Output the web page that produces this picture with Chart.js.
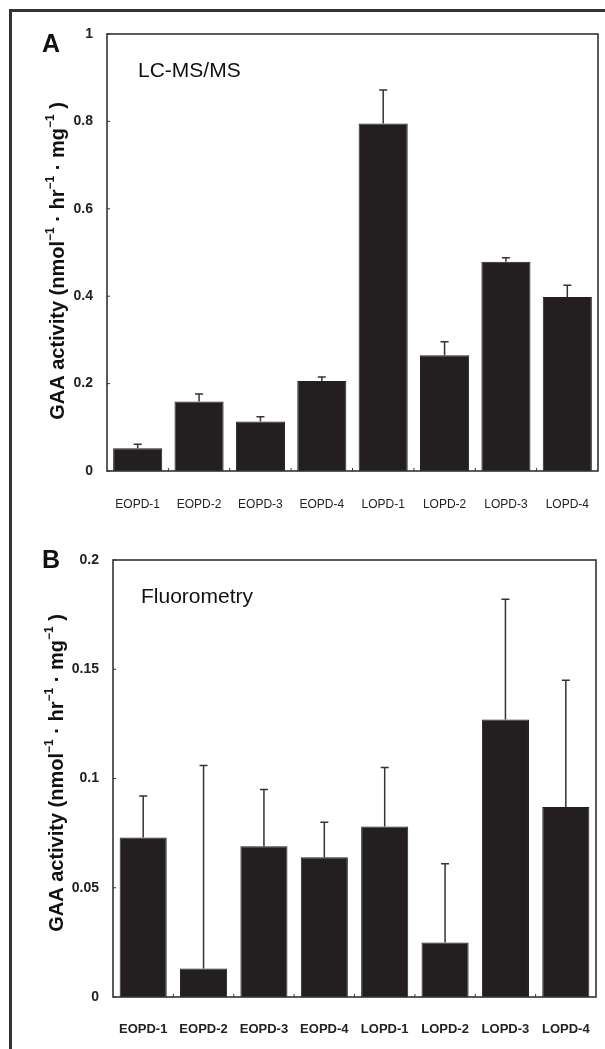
<!DOCTYPE html>
<html>
<head>
<meta charset="utf-8">
<title>GAA activity</title>
<script src="https://cdn.jsdelivr.net/npm/chart.js@4.4.1/dist/chart.umd.min.js"></script>
<style>
    body { margin: 0; background: #fff; }
    #page { position: relative; width: 605px; height: 1049px; overflow: hidden; }
    #frame {
        position: absolute; left: 9px; top: 9px; width: 700px; height: 1100px;
        border-left: 3px solid #333; border-top: 3px solid #333;
    }
    #wrapA { position: absolute; left: 0; top: 0; width: 605px; height: 520px; }
    #wrapB { position: absolute; left: 0; top: 520px; width: 605px; height: 529px; }
</style>
</head>
<body>
<div id="page">
    <div id="frame"></div>
    <div id="wrapA"><canvas id="chartA" width="605" height="520"></canvas></div>
    <div id="wrapB"><canvas id="chartB" width="605" height="529"></canvas></div>
</div>

<script>
// =============================
// DATA
// =============================

const patients = ["EOPD-1", "EOPD-2", "EOPD-3", "EOPD-4", "LOPD-1", "LOPD-2", "LOPD-3", "LOPD-4"];

// A: LC-MS/MS (mean, upper error)
const lcmsValues = [0.052, 0.159, 0.113, 0.206, 0.795, 0.265, 0.479, 0.398];
const lcmsErrors = [0.009, 0.017, 0.011, 0.009, 0.077, 0.031, 0.009, 0.027];

// B: Fluorometry (mean, upper error)
const fluoValues = [0.073, 0.013, 0.069, 0.064, 0.078, 0.025, 0.127, 0.087];
const fluoErrors = [0.019, 0.093, 0.026, 0.016, 0.027, 0.036, 0.055, 0.058];

const yTitleParts = [
    ["GAA activity (nmol", false],
    ["\u22121", true],
    [" \u00B7 hr", false],
    ["\u22121", true],
    [" \u00B7 mg", false],
    ["\u22121", true],
    [" )", false]
];

const FONT = "Arial, 'Liberation Sans', sans-serif";
const INK = "#333";


// =============================
// FRAME, TICKS, ERROR BARS, TEXT
// =============================

const decorPlugin = {
    id: "decor",
    afterDatasetsDraw(chart, args, opts) {

        const ctx = chart.ctx;
        const area = chart.chartArea;
        const x = chart.scales.x;
        const y = chart.scales.y;
        const ds = chart.data.datasets[0];

        ctx.save();

        // error bars (upper only)
        ctx.strokeStyle = INK;
        ctx.lineWidth = 1.5;
        ds.data.forEach((v, i) => {
            const px = x.getPixelForValue(i);
            const top = y.getPixelForValue(v);
            const cap = y.getPixelForValue(v + opts.errors[i]);
            ctx.beginPath();
            ctx.moveTo(px, top);
            ctx.lineTo(px, cap);
            ctx.moveTo(px - 4, cap);
            ctx.lineTo(px + 4, cap);
            ctx.stroke();
        });

        // plot box
        ctx.lineWidth = 1.6;
        ctx.strokeRect(area.left, area.top, area.right - area.left, area.bottom - area.top);

        // inward ticks
        ctx.lineWidth = 1;
        y.ticks.forEach(t => {
            const py = y.getPixelForValue(t.value);
            ctx.beginPath();
            ctx.moveTo(area.left, py);
            ctx.lineTo(area.left + 3, py);
            ctx.stroke();
        });
        for (let i = 1; i < ds.data.length; i++) {
            const px = (x.getPixelForValue(i - 1) + x.getPixelForValue(i)) / 2;
            ctx.beginPath();
            ctx.moveTo(px, area.bottom);
            ctx.lineTo(px, area.bottom - 3);
            ctx.stroke();
        }

        // panel letter and method name
        ctx.fillStyle = "#111";
        ctx.textBaseline = "alphabetic";
        ctx.textAlign = "left";
        ctx.font = "bold 25px " + FONT;
        ctx.fillText(opts.letter, 42, opts.letterY);
        ctx.font = "21px " + FONT;
        ctx.fillText(opts.method, opts.methodX, opts.methodY);

        // rotated y title with superscripts
        ctx.translate(opts.titleX, opts.titleY);
        ctx.rotate(-Math.PI / 2);
        const big = "bold 20px " + FONT;
        const small = "bold 12px " + FONT;
        let total = 0;
        yTitleParts.forEach(p => {
            ctx.font = p[1] ? small : big;
            total += ctx.measureText(p[0]).width;
        });
        let cx = -total / 2;
        yTitleParts.forEach(p => {
            ctx.font = p[1] ? small : big;
            ctx.fillText(p[0], cx, p[1] ? -10 : 0);
            cx += ctx.measureText(p[0]).width;
        });

        ctx.restore();
    }
};


// =============================
// CHART BUILDER
// =============================

function makeChart(id, values, errors, yMax, step, cfg) {

    return new Chart(document.getElementById(id), {
        type: "bar",
        data: {
            labels: patients,
            datasets: [
                {
                    data: values,
                    backgroundColor: "#231f20",
                    borderColor: "#231f20",
                    borderWidth: 1,
                    categoryPercentage: 1,
                    barPercentage: cfg.barPct
                }
            ]
        },
        options: {
            responsive: false,
            animation: false,
            events: [],
            layout: {
                padding: { top: cfg.padTop, right: cfg.padRight, left: 0, bottom: 0 }
            },
            plugins: {
                legend: { display: false },
                tooltip: { enabled: false },
                decor: {
                    errors: errors,
                    letter: cfg.letter,
                    letterY: cfg.letterY,
                    method: cfg.method,
                    methodX: cfg.methodX,
                    methodY: cfg.methodY,
                    titleX: cfg.titleX,
                    titleY: cfg.titleY
                }
            },
            scales: {
                x: {
                    grid: { display: false },
                    border: { display: false },
                    ticks: {
                        color: "#222",
                        padding: cfg.xPad,
                        font: { family: FONT, size: cfg.xFont, weight: cfg.xWeight }
                    },
                    afterFit: s => {
                        s.height = cfg.xHeight;
                        s.paddingLeft = 0;
                        s.paddingRight = 0;
                    }
                },
                y: {
                    min: 0,
                    max: yMax,
                    grid: { display: false },
                    border: { display: false },
                    ticks: {
                        stepSize: step,
                        color: "#222",
                        padding: 6,
                        font: { family: FONT, size: 14, weight: "bold" },
                        callback: v => String(Number(v.toFixed(3)))
                    },
                    afterFit: s => { s.width = cfg.yWidth; }
                }
            }
        },
        plugins: [decorPlugin]
    });
}


// =============================
// PANELS
// =============================

makeChart("chartA", lcmsValues, lcmsErrors, 1, 0.2, {
    barPct: 0.8,
    padTop: 34, padRight: 7,
    yWidth: 107, xHeight: 49,
    xPad: 18, xFont: 12, xWeight: "normal",
    letter: "A", letterY: 52,
    method: "LC-MS/MS", methodX: 138, methodY: 77,
    titleX: 64, titleY: 261
});

makeChart("chartB", fluoValues, fluoErrors, 0.2, 0.05, {
    barPct: 0.78,
    padTop: 40, padRight: 9,
    yWidth: 113, xHeight: 52,
    xPad: 17, xFont: 13, xWeight: "bold",
    letter: "B", letterY: 48,
    method: "Fluorometry", methodX: 141, methodY: 83,
    titleX: 63, titleY: 253
});
</script>
</body>
</html>
